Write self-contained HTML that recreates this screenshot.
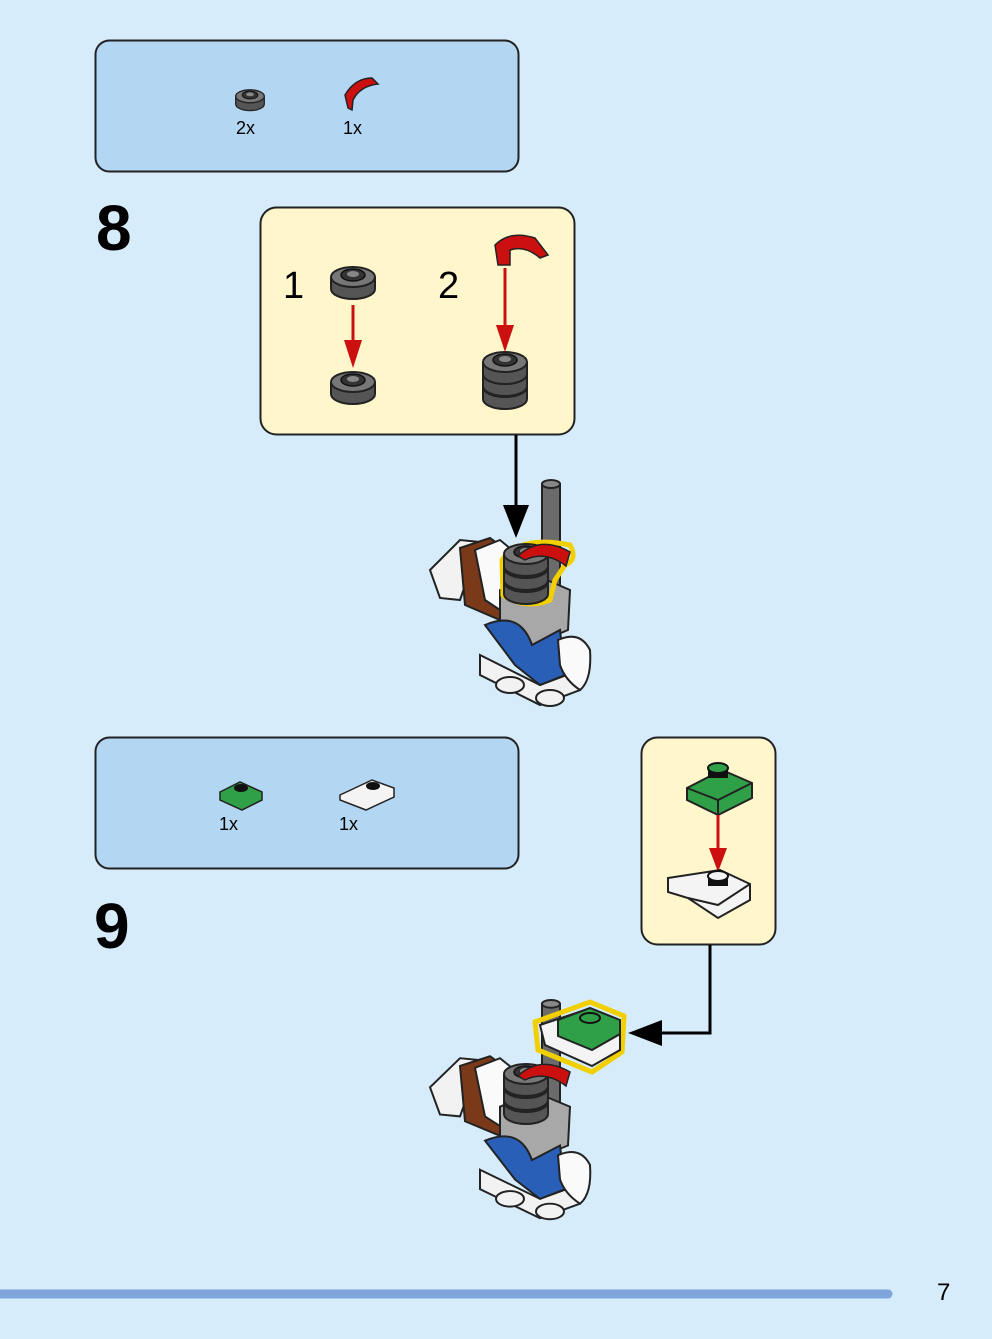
<!DOCTYPE html>
<html><head><meta charset="utf-8"><style>
html,body{margin:0;padding:0;background:#d6ecfa;}
svg{display:block;}
text{font-family:"Liberation Sans",sans-serif;}
</style></head><body>
<svg width="992" height="1339" viewBox="0 0 992 1339" xmlns="http://www.w3.org/2000/svg">
<defs>
<marker id="ar" markerWidth="10" markerHeight="12" refX="5" refY="11" orient="auto" markerUnits="userSpaceOnUse"></marker>
<g id="ring">
 <ellipse cx="0" cy="14" rx="22" ry="10" fill="#555" stroke="#222" stroke-width="2"/>
 <rect x="-22" y="2" width="44" height="12" fill="#555"/>
 <line x1="-22" y1="2" x2="-22" y2="14" stroke="#222" stroke-width="2"/>
 <line x1="22" y1="2" x2="22" y2="14" stroke="#222" stroke-width="2"/>
 <ellipse cx="0" cy="2" rx="22" ry="10" fill="#777" stroke="#222" stroke-width="2"/>
 <ellipse cx="0" cy="0" rx="12" ry="6" fill="#333" stroke="#111" stroke-width="1.5"/>
 <ellipse cx="0" cy="-1" rx="6" ry="3" fill="#888"/>
</g>
<g id="model">
 <!-- pole -->
 <rect x="122" y="4" width="18" height="110" fill="#6b6b6b" stroke="#222" stroke-width="2"/>
 <ellipse cx="131" cy="4" rx="9" ry="4" fill="#888" stroke="#222" stroke-width="2"/>
 <!-- back white arm -->
 <path d="M10 90 L40 60 L60 62 L40 120 L20 118 Z" fill="#f2f2f2" stroke="#222" stroke-width="2"/>
 <path d="M40 68 L70 58 L100 80 L80 140 L45 125 Z" fill="#7a3a1a" stroke="#222" stroke-width="2"/>
 <path d="M55 70 L80 60 L110 85 L95 140 L65 120 Z" fill="#fafafa" stroke="#222" stroke-width="2"/>
 <!-- gray body -->
 <path d="M80 110 L115 95 L150 110 L148 150 L112 165 L80 150 Z" fill="#a8a8a8" stroke="#222" stroke-width="2"/>
 <!-- base white -->
 <path d="M60 175 L120 205 L160 190 L160 210 L120 225 L60 195 Z" fill="#f2f2f2" stroke="#222" stroke-width="2"/>
 <ellipse cx="90" cy="205" rx="14" ry="8" fill="#f2f2f2" stroke="#222" stroke-width="2"/>
 <ellipse cx="130" cy="218" rx="14" ry="8" fill="#f2f2f2" stroke="#222" stroke-width="2"/>
 <!-- blue -->
 <path d="M65 145 Q100 130 112 165 L140 150 L145 195 L120 205 L95 185 Z" fill="#2a5fb8" stroke="#222" stroke-width="2"/>
 <!-- white hand -->
 <path d="M138 160 Q160 150 170 170 Q172 200 160 210 Q145 200 140 185 Z" fill="#fafafa" stroke="#222" stroke-width="2"/>
</g>
</defs>

<!-- parts box 8 -->
<rect x="95.5" y="40.5" width="423" height="131" rx="14" fill="#b3d6f3" stroke="#222" stroke-width="2"/>
<g transform="translate(250,95) scale(0.65)"><use href="#ring"/></g>
<path d="M348 108 L345 95 Q355 78 372 78 L378 84 Q360 86 353 100 L352 110 Z" fill="#cc1010" stroke="#222" stroke-width="1.5"/>
<text x="236" y="134" font-size="18">2x</text>
<text x="343" y="134" font-size="18">1x</text>

<text x="96" y="250" font-size="64" font-weight="bold" fill="#000">8</text>

<!-- callout 8 -->
<rect x="260.5" y="207.5" width="314" height="227" rx="16" fill="#fff6cc" stroke="#222" stroke-width="2"/>
<text x="283" y="298" font-size="38">1</text>
<text x="438" y="298" font-size="38">2</text>
<use href="#ring" transform="translate(353,275)"/>
<use href="#ring" transform="translate(353,380)"/>
<line x1="353" y1="305" x2="353" y2="355" stroke="#cc1010" stroke-width="3"/>
<path d="M344 340 L362 340 L353 368 Z" fill="#cc1010"/>
<use href="#ring" transform="translate(505,385)"/>
<use href="#ring" transform="translate(505,372)"/>
<use href="#ring" transform="translate(505,360)"/>
<path d="M498 265 L495 245 Q510 230 535 238 L548 255 L540 258 Q525 245 510 250 L510 265 Z" fill="#cc1010" stroke="#222" stroke-width="1.5"/>
<line x1="505" y1="268" x2="505" y2="335" stroke="#cc1010" stroke-width="3"/>
<path d="M496 325 L514 325 L505 352 Z" fill="#cc1010"/>

<!-- connector 8 -->
<line x1="516" y1="435" x2="516" y2="510" stroke="#000" stroke-width="3"/>
<path d="M503 505 L529 505 L516 538 Z" fill="#000"/>

<!-- model 8 -->
<use href="#model" transform="translate(420,480)"/>
<path d="M502 560 Q520 535 570 545 Q578 560 565 565 L555 580 L550 600 Q525 610 503 595 Z" fill="none" stroke="#f2d000" stroke-width="5"/>
<use href="#ring" transform="translate(526,580)"/>
<use href="#ring" transform="translate(526,566)"/>
<use href="#ring" transform="translate(526,552)"/>
<path d="M518 556 Q540 535 570 552 L566 566 Q545 550 525 560 Z" fill="#cc1010" stroke="#222" stroke-width="1.5"/>

<!-- parts box 9 -->
<rect x="95.5" y="737.5" width="423" height="131" rx="14" fill="#b3d6f3" stroke="#222" stroke-width="2"/>
<path d="M220 792 L240 782 L262 792 L262 800 L242 810 L220 800 Z" fill="#2fa048" stroke="#222" stroke-width="1.5"/>
<ellipse cx="241" cy="788" rx="7" ry="4" fill="#111"/>
<path d="M340 795 L372 780 L394 788 L394 797 L366 810 L340 800 Z" fill="#f4f4f4" stroke="#222" stroke-width="1.5"/>
<ellipse cx="373" cy="786" rx="7" ry="4" fill="#111"/>
<text x="219" y="830" font-size="18">1x</text>
<text x="339" y="830" font-size="18">1x</text>

<text x="94" y="948" font-size="64" font-weight="bold" fill="#000">9</text>

<!-- callout 9 -->
<rect x="641.5" y="737.5" width="134" height="207" rx="16" fill="#fff6cc" stroke="#222" stroke-width="2"/>
<path d="M687 788 L722 770 L752 783 L752 798 L718 815 L687 800 Z" fill="#2fa048" stroke="#222" stroke-width="2"/>
<path d="M687 788 L718 800 L752 783" fill="none" stroke="#222" stroke-width="2"/>
<line x1="718" y1="800" x2="718" y2="815" stroke="#222" stroke-width="2"/>
<rect x="708" y="768" width="20" height="10" fill="#111"/>
<ellipse cx="718" cy="768" rx="10" ry="5" fill="#2fa048" stroke="#111" stroke-width="2"/>
<line x1="718" y1="815" x2="718" y2="860" stroke="#cc1010" stroke-width="3"/>
<path d="M709 848 L727 848 L718 872 Z" fill="#cc1010"/>
<path d="M668 878 L720 870 L750 884 L750 900 L718 918 L688 898 L668 892 Z" fill="#f4f4f4" stroke="#222" stroke-width="2"/>
<path d="M688 898 L718 905 L750 884" fill="none" stroke="#222" stroke-width="2"/>
<rect x="708" y="876" width="20" height="10" fill="#111"/>
<ellipse cx="718" cy="876" rx="10" ry="5" fill="#f4f4f4" stroke="#111" stroke-width="2"/>

<!-- connector 9 -->
<polyline points="710,945 710,1033 655,1033" fill="none" stroke="#000" stroke-width="3"/>
<path d="M662 1020 L662 1046 L628 1033 Z" fill="#000"/>

<!-- model 9 -->
<use href="#model" transform="translate(420,1000) scale(1,0.97)"/>
<use href="#ring" transform="translate(526,1100)"/>
<use href="#ring" transform="translate(526,1086)"/>
<use href="#ring" transform="translate(526,1072)"/>
<path d="M518 1076 Q540 1055 570 1072 L566 1086 Q545 1070 525 1080 Z" fill="#cc1010" stroke="#222" stroke-width="1.5"/>
<path d="M535 1022 L590 1002 L624 1016 L622 1052 L592 1072 L538 1050 Z" fill="none" stroke="#f2d000" stroke-width="5"/>
<path d="M540 1025 L585 1010 L620 1022 L620 1050 L592 1066 L545 1045 Z" fill="#f4f4f4" stroke="#222" stroke-width="2"/>
<path d="M558 1020 L590 1008 L620 1020 L620 1034 L592 1050 L558 1036 Z" fill="#2fa048" stroke="#222" stroke-width="2"/>
<ellipse cx="590" cy="1018" rx="10" ry="5" fill="#2fa048" stroke="#111" stroke-width="2"/>

<!-- footer -->
<line x1="0" y1="1294" x2="888" y2="1294" stroke="#7ea6da" stroke-width="9" stroke-linecap="round"/>
<text x="937" y="1300" font-size="24">7</text>
</svg>
</body></html>
